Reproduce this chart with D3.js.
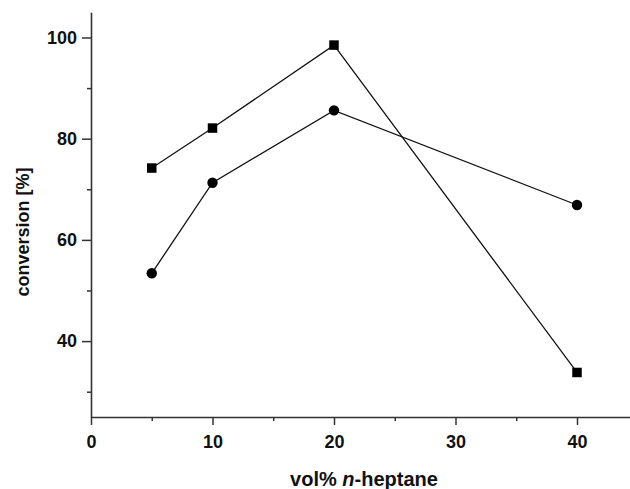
<!DOCTYPE html>
<html>
<head>
<meta charset="utf-8">
<script src="https://cdn.jsdelivr.net/npm/d3@7"></script>
<style>
  html, body { margin: 0; padding: 0; background: #fff; }
  svg { display: block; }
  .tick text { font-family: "Liberation Sans", Arial, sans-serif; font-weight: bold; font-size: 18px; fill: #111; }
</style>
</head>
<body>
<svg id="chart" width="630" height="489"></svg>
<script>
const xValues = [5, 10, 20, 40];
const squareSeries = [74.2, 82.1, 98.5, 33.8];
const circleSeries = [53.4, 71.3, 85.6, 66.9];
const xMajorTicks = [0, 10, 20, 30, 40];
const xMinorTicks = [5, 15, 25, 35];
const yMajorTicks = [40, 60, 80, 100];
const yMinorTicks = [30, 50, 70, 90];

const svg = d3.select("#chart");
const x0 = 91, yBase = 417;
const x = d3.scaleLinear().domain([0, 45]).range([x0, x0 + 45 * 12.15]);
const y = d3.scaleLinear().domain([25, 105]).range([yBase, yBase - 80 * 5.06]);

const axisColor = "#333";

// X axis
const gx = svg.append("g").attr("transform", `translate(0,${yBase})`);
gx.call(d3.axisBottom(x).tickValues(xMinorTicks).tickSize(4).tickFormat(""))
  .call(g => g.select(".domain").remove());
gx.append("g").call(d3.axisBottom(x).tickValues(xMajorTicks).tickSize(8).tickSizeOuter(0).tickPadding(10).tickFormat(d3.format("d")));
gx.selectAll("line").attr("stroke", axisColor).attr("stroke-width", 1.5);
gx.selectAll(".domain").attr("stroke", axisColor).attr("stroke-width", 1.6);

// Y axis
const gy = svg.append("g").attr("transform", `translate(${x0},0)`);
gy.call(d3.axisLeft(y).tickValues(yMinorTicks).tickSize(4).tickFormat(""))
  .call(g => g.select(".domain").remove());
gy.append("g").call(d3.axisLeft(y).tickValues(yMajorTicks).tickSize(9).tickSizeOuter(0).tickPadding(5).tickFormat(d3.format("d")));
gy.selectAll("line").attr("stroke", axisColor).attr("stroke-width", 1.5);
gy.selectAll(".domain").attr("stroke", axisColor).attr("stroke-width", 1.6);

// Lines
const line = d3.line().x(d => x(d[0])).y(d => y(d[1]));
const sqData = xValues.map((v, i) => [v, squareSeries[i]]);
const ciData = xValues.map((v, i) => [v, circleSeries[i]]);

svg.append("path").datum(sqData).attr("d", line).attr("fill", "none").attr("stroke", "#111").attr("stroke-width", 1.3);
svg.append("path").datum(ciData).attr("d", line).attr("fill", "none").attr("stroke", "#111").attr("stroke-width", 1.3);

const s = 9.5;
svg.selectAll("rect.sq").data(sqData).enter().append("rect")
  .attr("x", d => x(d[0]) - s / 2).attr("y", d => y(d[1]) - s / 2)
  .attr("width", s).attr("height", s).attr("fill", "#000");
svg.selectAll("circle.ci").data(ciData).enter().append("circle")
  .attr("cx", d => x(d[0])).attr("cy", d => y(d[1])).attr("r", 5.2).attr("fill", "#000");

// Axis titles
const xt = svg.append("text")
  .attr("x", 364).attr("y", 486)
  .attr("text-anchor", "middle")
  .attr("font-family", "Liberation Sans, Arial, sans-serif")
  .attr("font-weight", "bold").attr("font-size", 20).attr("fill", "#111");
xt.append("tspan").text("vol% ");
xt.append("tspan").attr("font-style", "italic").text("n");
xt.append("tspan").text("-heptane");

svg.append("text")
  .attr("transform", "translate(29,232) rotate(-90)")
  .attr("text-anchor", "middle")
  .attr("font-family", "Liberation Sans, Arial, sans-serif")
  .attr("font-weight", "bold").attr("font-size", 18).attr("fill", "#111")
  .text("conversion [%]");
</script>
</body>
</html>
